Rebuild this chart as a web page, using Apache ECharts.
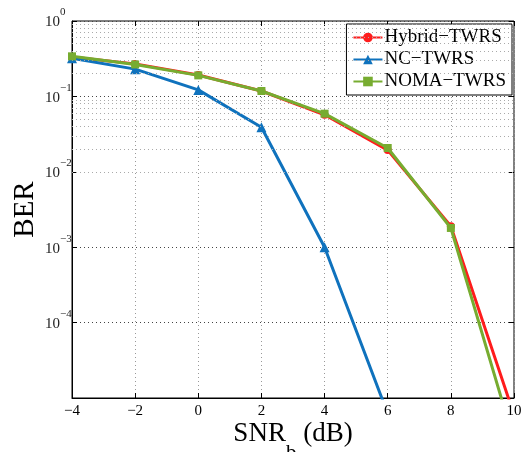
<!DOCTYPE html>
<html>
<head>
<meta charset="utf-8">
<script src="https://cdn.jsdelivr.net/npm/echarts@6/dist/echarts.min.js"></script>
<style>
html, body { margin: 0; padding: 0; background: #fff; }
#chart { width: 528px; height: 452px; }
</style>
</head>
<body>
<div id="chart"></div>
<script>
var snr = [-4, -2, 0, 2, 4, 6, 8, 10];
var hybridBer = [0.333, 0.27, 0.192, 0.118, 0.057, 0.0194, 0.0019, 0.000006];
var ncBer = [0.32, 0.23, 0.122, 0.039, 0.001, 0.0000062];
var nomaBer = [0.34, 0.265, 0.19, 0.118, 0.059, 0.0207, 0.0018, 0.0000027];
var xTicks = [-4, -2, 0, 2, 4, 6, 8, 10];
var decades = [-5, -4, -3, -2, -1];
var minorSteps = [2, 3, 4, 5, 6, 7, 8, 9];

var serif = 'Liberation Serif';

function pairs(xs, ys) {
	var out = [];
	for (var i = 0; i < ys.length; i++) {
		out.push([xs[i], ys[i]]);
	}
	return out;
}

// minor grid lines of the log axis
var minorLines = [];
for (var d = 0; d < decades.length; d++) {
	for (var m = 0; m < minorSteps.length; m++) {
		minorLines.push({ yAxis: minorSteps[m] * Math.pow(10, decades[d]) });
	}
}

function minus(v) {
	return String(v).replace('-', '\u2212');
}

var chart = echarts.init(document.getElementById('chart'));
var option = {
	backgroundColor: '#fff',
	animation: false,
	textStyle: { fontFamily: serif },
	grid: {
		left: 72,
		top: 21,
		width: 442,
		height: 377,
		outerBoundsMode: 'none',
		containLabel: false,
		show: true,
		borderColor: '#000',
		borderWidth: 1,
		backgroundColor: 'transparent'
	},
	legend: {
		data: ['Hybrid\u2212TWRS', 'NC\u2212TWRS', 'NOMA\u2212TWRS'],
		orient: 'vertical',
		right: 16,
		top: 24,
		padding: [4, 6, 4, 6],
		itemGap: 3,
		itemWidth: 29,
		itemHeight: 12,
		backgroundColor: '#fff',
		borderColor: '#000',
		borderWidth: 1,
		borderRadius: 0,
		textStyle: { fontFamily: serif, fontSize: 19, color: '#000', padding: [0, 0, 0, -3] }
	},
	xAxis: [{
		type: 'value',
		min: -4,
		max: 10,
		interval: 2,
		name: '{a|SNR}{s|b}{a| (dB)}',
		nameLocation: 'middle',
		nameGap: 22,
		nameMoveOverlap: false,
		nameTextStyle: {
			rich: {
				a: { fontFamily: serif, fontSize: 27, color: '#000', lineHeight: 30, verticalAlign: 'top' },
				s: { fontFamily: serif, fontSize: 21, color: '#000', lineHeight: 44, verticalAlign: 'bottom' }
			}
		},
		axisLine: { show: true, onZero: false, lineStyle: { color: '#000', width: 1 } },
		axisTick: { show: true, inside: true, length: 5, lineStyle: { color: '#000' } },
		axisLabel: {
			margin: 6,
			fontFamily: serif,
			fontSize: 15,
			color: '#000',
			formatter: function (v) { return xTicks.indexOf(v) >= 0 ? minus(v) : ''; }
		},
		splitLine: { show: true, lineStyle: { color: '#999', width: 1, type: [1, 3] } }
	}, {
		type: 'value',
		position: 'top',
		min: -4,
		max: 10,
		interval: 2,
		axisLine: { show: false },
		axisTick: { show: true, inside: true, length: 5, lineStyle: { color: '#000' } },
		axisLabel: { show: false },
		splitLine: { show: false }
	}],
	yAxis: [{
		type: 'log',
		logBase: 10,
		min: 0.00001,
		max: 1,
		name: 'BER',
		nameLocation: 'middle',
		nameGap: 32,
		nameMoveOverlap: false,
		nameTextStyle: { fontFamily: serif, fontSize: 29, color: '#000' },
		axisLine: { show: true, onZero: false, lineStyle: { color: '#000', width: 1 } },
		axisTick: { show: true, inside: true, length: 5, lineStyle: { color: '#000' } },
		axisLabel: {
			margin: 27,
			align: 'left',
			formatter: function (v) {
				var e = Math.round(Math.log(v) / Math.LN10);
				if (e <= -5) return '';
				return '{b|10}{s|' + minus(e) + '}';
			},
			rich: {
				b: { fontFamily: serif, fontSize: 15, color: '#222', lineHeight: 28, verticalAlign: 'middle', padding: [3, 0, 0, 0] },
				s: { fontFamily: serif, fontSize: 11, color: '#222', lineHeight: 22, verticalAlign: 'top' }
			}
		},
		splitLine: { show: true, lineStyle: { color: '#444', width: 1, type: [1, 3] } }
	}, {
		type: 'log',
		logBase: 10,
		position: 'right',
		min: 0.00001,
		max: 1,
		axisLine: { show: false, onZero: false },
		axisTick: { show: true, inside: true, length: 5, lineStyle: { color: '#000' } },
		axisLabel: { show: false },
		splitLine: { show: false }
	}],
	series: [{
		name: 'minor-grid',
		type: 'line',
		data: [],
		silent: true,
		markLine: {
			silent: true,
			symbol: 'none',
			label: { show: false },
			lineStyle: { color: '#aaa', width: 1, type: [1, 3] },
			data: minorLines
		}
	}, {
		name: 'Hybrid\u2212TWRS',
		type: 'line',
		data: pairs(snr, hybridBer),
		symbol: 'circle',
		symbolSize: 8,
		clip: true,
		lineStyle: { color: '#ff1c1c', width: 3 },
		itemStyle: { color: '#ff1c1c' },
		z: 3
	}, {
		name: 'NC\u2212TWRS',
		type: 'line',
		data: pairs(snr, ncBer),
		symbol: 'triangle',
		symbolSize: 10,
		clip: true,
		lineStyle: { color: '#0f72bd', width: 3 },
		itemStyle: { color: '#0f72bd' },
		z: 4
	}, {
		name: 'NOMA\u2212TWRS',
		type: 'line',
		data: pairs(snr, nomaBer),
		symbol: 'rect',
		symbolSize: 8,
		clip: true,
		lineStyle: { color: '#77ac30', width: 3 },
		itemStyle: { color: '#77ac30' },
		z: 5
	}]
};
chart.setOption(option);
</script>
</body>
</html>
